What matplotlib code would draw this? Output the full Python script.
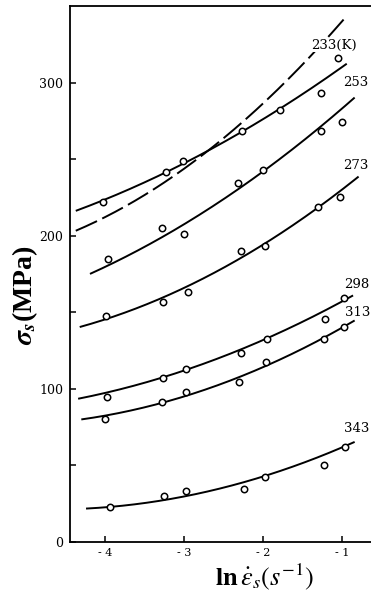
import numpy as np
import matplotlib
matplotlib.use("Agg")
import matplotlib.pyplot as plt

plt.rcParams['mathtext.fontset'] = 'stix'

# ---------------- data ----------------
series_names = ["233(K)", "253", "273", "298", "313", "343"]

pts_x = {
    "233(K)": [-4.02, -3.23, -3.01, -2.27, -1.78, -1.27, -1.05],
    "253":    [-3.96, -3.28, -3.00, -2.32, -2.00, -1.27, -1.00],
    "273":    [-3.99, -3.27, -2.95, -2.28, -1.97, -1.30, -1.03],
    "298":    [-3.98, -3.27, -2.97, -2.28, -1.95, -1.22, -0.97],
    "313":    [-4.00, -3.28, -2.97, -2.31, -1.96, -1.23, -0.97],
    "343":    [-3.94, -3.25, -2.97, -2.24, -1.97, -1.23, -0.96],
}
pts_y = {
    "233(K)": [222.0, 241.6, 249.0, 268.6, 282.4, 293.7, 316.1],
    "253":    [184.8, 205.0, 201.3, 234.8, 243.1, 268.6, 274.7],
    "273":    [147.9, 157.1, 163.2, 190.4, 193.7, 219.2, 225.5],
    "298":    [94.9, 107.4, 113.1, 123.3, 132.5, 145.6, 159.3],
    "313":    [80.2, 91.7, 97.8, 104.8, 117.5, 132.5, 140.3],
    "343":    [23.1, 30.1, 33.3, 34.4, 42.7, 50.3, 61.9],
}

# fitted curves, sampled along the drawn lines
curve_x = {
    "233(K)": [-4.37, -3.23, -2.27, -1.78, -0.94],
    "253":    [-4.19, -3.56, -2.71, -2.32, -2.04, -1.28, -0.84],
    "273":    [-4.32, -4.00, -3.30, -2.80, -2.59, -1.87, -1.30, -0.79],
    "298":    [-4.34, -3.30, -2.67, -1.95, -0.86],
    "313":    [-4.30, -3.30, -2.67, -1.95, -0.84],
    "343":    [-4.24, -3.22, -2.97, -2.38, -1.97, -0.84],
}
curve_y = {
    "233(K)": [216.3, 241.8, 268.6, 282.4, 312.9],
    "253":    [175.2, 190.8, 217.0, 232.2, 240.3, 268.2, 292.2],
    "273":    [140.1, 146.2, 158.2, 171.2, 177.8, 197.4, 219.2, 238.8],
    "298":    [93.3, 108.0, 117.8, 132.5, 161.4],
    "313":    [79.7, 91.7, 100.5, 114.6, 145.1],
    "343":    [21.6, 28.6, 29.6, 37.3, 42.7, 65.6],
}

# dashed curve
dashed_x = [-4.37, -3.81, -3.05, -2.16, -1.57, -0.98]
dashed_y = [202.6, 218.3, 243.1, 278.0, 307.4, 342.3]

x_ticks = [-4, -3, -2, -1]
x_tick_labels = ["- 4", "- 3", "- 2", "- 1"]
y_ticks = [0, 100, 200, 300]
y_tick_labels = ["0", "100", "200", "300"]

# label anchor positions (layout)
label_pos = {
    "233(K)": (-1.10, 324.8),
    "253":    (-0.82, 300.0),
    "273":    (-0.82, 245.8),
    "298":    (-0.81, 168.6),
    "313":    (-0.80, 150.3),
    "343":    (-0.82, 74.5),
}

# ---------------- figure ----------------
W, H = 371, 597
fig = plt.figure(figsize=(W / 100, H / 100), dpi=100)
ax = fig.add_axes([70 / W, 55 / H, 301 / W, 536 / H])
ax.set_xlim(-4.443, -0.633)
ax.set_ylim(0, 350.3)

lw = 1.4
dx = np.array(dashed_x); dy = np.array(dashed_y)
coef = np.polyfit(dx, dy, 2)
xs = np.linspace(dx[0], dx[-1], 300)
ax.plot(xs, np.polyval(coef, xs), color='black', lw=lw, dashes=(12, 3), zorder=1)

for name in series_names:
    cx = np.array(curve_x[name]); cy = np.array(curve_y[name])
    coef = np.polyfit(cx, cy, 2)
    xs = np.linspace(cx[0], cx[-1], 200)
    ax.plot(xs, np.polyval(coef, xs), color='black', lw=lw, solid_capstyle='butt', zorder=2)
    ax.plot(pts_x[name], pts_y[name], linestyle='none', marker='o', ms=4.6,
            mfc='white', mec='black', mew=1.1, zorder=3)
    lx, ly = label_pos[name]
    ax.text(lx, ly, name, ha='center', va='center', fontsize=9.5,
            family='DejaVu Serif', clip_on=False, zorder=4,
            bbox=dict(facecolor='white', edgecolor='none', pad=0.5))

# spines / ticks
ax.spines['right'].set_visible(False)
for s in ['left', 'bottom', 'top']:
    ax.spines[s].set_linewidth(1.3)
ax.set_xticks(x_ticks)
ax.set_xticklabels(x_tick_labels, family='DejaVu Serif', fontsize=8)
ax.set_yticks(y_ticks)
ax.set_yticklabels(y_tick_labels, family='DejaVu Serif', fontsize=9)
ax.set_yticks([50, 150, 250], minor=True)
ax.tick_params(axis='both', which='both', direction='in', length=4, width=1.1)
ax.tick_params(axis='x', pad=4)
ax.tick_params(axis='y', pad=5)

fig.text(264 / W, 1 - 577 / H, r"$\mathbf{ln}\,\dot{\varepsilon}_s(s^{-1})$",
         ha='center', va='center', fontsize=19)
fig.text(25 / W, 1 - 295 / H, r"$\boldsymbol{\sigma}_{\boldsymbol{s}}$(MPa)", rotation=90,
         ha='center', va='center', fontsize=20, family='Liberation Serif',
         fontweight='bold')

fig.savefig("out.png", dpi=100)
